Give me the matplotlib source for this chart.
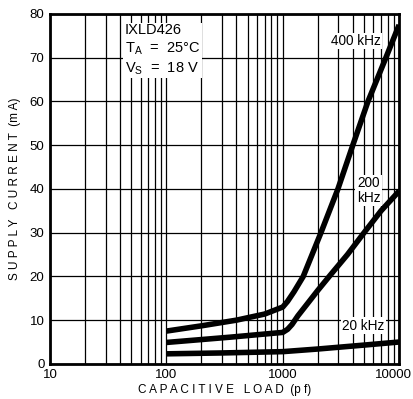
import numpy as np
import matplotlib
matplotlib.use("Agg")
import matplotlib.pyplot as plt
from matplotlib.transforms import ScaledTranslation

plt.rcParams['font.family'] = ['Liberation Sans', 'DejaVu Sans']

# Supply current (mA) vs capacitive load (pF)
load_400k = [100, 200, 400, 700, 1000, 1100, 1250, 1500, 2130, 2980, 4000, 5400, 7700, 10000]
i_400k = [7.5, 8.7, 10.0, 11.4, 13.0, 14.3, 16.5, 20.0, 30.0, 40.0, 50.0, 60.0, 70.0, 77.5]
load_200k = [100, 350, 1000, 1100, 1200, 1350, 1600, 2000, 2600, 3600, 5000, 7000, 10000]
i_200k = [4.9, 6.1, 7.2, 7.9, 9.0, 11.0, 13.5, 16.8, 20.5, 25.0, 30.0, 35.0, 39.5]
load_20k = [100, 300, 1000, 2000, 5000, 10000]
i_20k = [2.3, 2.5, 2.8, 3.4, 4.3, 5.0]

x_ticks = [10, 100, 1000, 10000]
y_ticks = [0, 10, 20, 30, 40, 50, 60, 70, 80]

fig = plt.figure(figsize=(4.14, 3.99), dpi=100)
ax = fig.add_axes([0.121, 0.088, 0.843, 0.877])
ax.set_xscale('log')
ax.set_xlim(10, 10000)
ax.set_ylim(0, 80)

# dense log grid
ax.grid(True, which='both', axis='x', color='black', linewidth=0.9)
ax.grid(True, which='major', axis='y', color='black', linewidth=0.9)
ax.set_xticks(x_ticks)
ax.set_xticklabels([str(v) for v in x_ticks])
ax.set_yticks(y_ticks)
ax.tick_params(which='both', length=0, labelsize=9.5, pad=4)
for s in ax.spines.values():
    s.set_linewidth(2)

# pull "10000" back inside the figure
last = ax.get_xticklabels()[-1]
last.set_transform(last.get_transform() + ScaledTranslation(-6 / 100, 0, fig.dpi_scale_trans))

for x, y in ((load_400k, i_400k), (load_200k, i_200k), (load_20k, i_20k)):
    ax.plot(x, y, color='black', linewidth=4, solid_capstyle='butt',
            solid_joinstyle='round', zorder=3)

box = dict(facecolor='white', edgecolor='none', pad=1)
ax.text(44, 78, 'IXLD426\n$\\mathregular{T_A}$  =  25°C\n$\\mathregular{V_S}$  =  18 V',
        fontsize=10.5, va='top', ha='left', linespacing=1.3, bbox=box, zorder=4)
ax.text(2600, 73.8, '400 kHz', fontsize=9.8, va='center', bbox=box, zorder=4)
ax.text(5450, 39.6, '200\nkHz', fontsize=9.8, ha='center', va='center', linespacing=1.05,
        bbox=box, zorder=4)
ax.text(4900, 8.7, '20 kHz', fontsize=9.8, ha='center', va='center', bbox=box, zorder=4)

ax.set_xlabel('C A P A C I T I V E   L O A D  (p f)', fontsize=8.5, labelpad=2)
ax.set_ylabel('S U P P L Y   C U R R E N T  (m A)', fontsize=8.5, labelpad=6)

fig.savefig('out.png', dpi=100)
